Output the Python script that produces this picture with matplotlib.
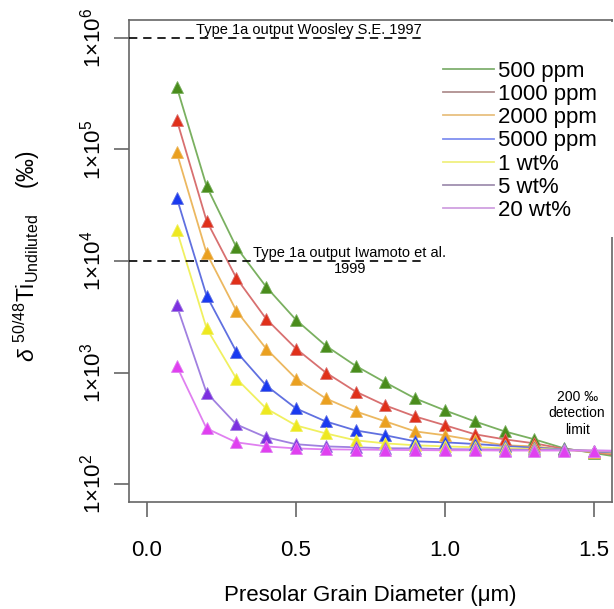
import matplotlib
matplotlib.use('Agg')
import matplotlib.pyplot as plt
from matplotlib.lines import Line2D
from matplotlib.patches import Rectangle

plt.rcParams['font.family'] = ['Liberation Sans', 'DejaVu Sans']
plt.rcParams['mathtext.fontset'] = 'custom'
plt.rcParams['mathtext.rm'] = 'Liberation Sans'
plt.rcParams['mathtext.it'] = 'Liberation Sans:italic'

# grain diameters (um); last point lies past the axis edge
diameter = [0.1, 0.2, 0.3, 0.4, 0.5, 0.6, 0.7, 0.8, 0.9, 1.0, 1.1, 1.2, 1.3, 1.4, 1.5, 1.6]

labels = ['500 ppm', '1000 ppm', '2000 ppm', '5000 ppm', '1 wt%', '5 wt%', '20 wt%']

d_500ppm = [365000, 47000, 13300, 5870, 2970, 1740, 1150, 815, 586, 458, 365, 297, 252, 209, 190, 172]
d_1000ppm = [185000, 23000, 7050, 3030, 1640, 1000, 676, 507, 404, 337, 280, 252, 232, 207, 193, 180]
d_2000ppm = [94000, 11800, 3580, 1640, 883, 586, 449, 365, 297, 274, 247, 223, 218, 203, 195, 186]
d_5000ppm = [37000, 4900, 1540, 766, 477, 365, 303, 274, 242, 237, 229, 220, 212, 205, 197, 190]
d_1wt = [19000, 2500, 883, 477, 336, 285, 247, 232, 223, 218, 214, 210, 207, 203, 199, 194]
d_5wt = [4000, 662, 343, 263, 228, 218, 214, 210, 209, 206, 205, 204, 203, 202, 200, 198]
d_20wt = [1150, 316, 237, 218, 209, 205, 204, 203, 202, 201, 201, 200, 200, 200, 200, 199]

series = [d_500ppm, d_1000ppm, d_2000ppm, d_5000ppm, d_1wt, d_5wt, d_20wt]

marker_colors = ['#4a8c1c', '#e0301a', '#eaa020', '#1a3af0', '#eee820', '#7d30e0', '#e040f0']
line_colors = ['#7ab060', '#d87070', '#ecb860', '#6070e0', '#f0f060', '#a080e0', '#e080f0']
legend_colors = ['#80b070', '#b09090', '#e8c080', '#8090f0', '#f0f080', '#a090b0', '#d0a0e0']

# reference model outputs
woosley = 1e6
iwamoto = 1e4

fig = plt.figure(figsize=(6.14, 6.09), dpi=100)
ax = fig.add_axes([129 / 614, 107 / 609, 483 / 614, 482 / 609])

for vals, mc, lc in zip(series, marker_colors, line_colors):
    ax.plot(diameter, vals, color=lc, lw=1.3, zorder=2)
    ax.plot(diameter, vals, ls='none', marker='^', ms=9, color=mc,
            markeredgecolor=lc, markeredgewidth=0.6, zorder=3)

ax.set_yscale('log')
ax.set_xlim(-0.06, 1.56)
ax.set_ylim(10 ** 1.84, 10 ** 6.16)

# horizontal reference lines
ax.plot([-0.06, 0.92], [woosley, woosley], color='black', lw=1.2, ls=(0, (5, 3.5)), zorder=4)
ax.plot([-0.06, 0.92], [iwamoto, iwamoto], color='black', lw=1.2, ls=(0, (5, 3.5)), zorder=4)
ax.text(0.543, woosley * 1.02, 'Type 1a output Woosley S.E. 1997', ha='center', va='bottom', fontsize=10.5)
ax.text(0.68, iwamoto, 'Type 1a output Iwamoto et al.\n1999', ha='center', va='center',
        fontsize=10.5, linespacing=1.2)
ax.text(1.443, 430, '200 \u2030\ndetection\nlimit', ha='center', va='center', fontsize=10,
        linespacing=1.2)

ax.set_yticks([1e2, 1e3, 1e4, 1e5, 1e6])
ax.set_yticklabels([r'1$\times$10$^{%d}$' % k for k in range(2, 7)], rotation=90, va='center')
ax.minorticks_off()
ax.set_xticks([0.0, 0.5, 1.0, 1.5])
ax.set_xticklabels(['0.0', '0.5', '1.0', '1.5'])

ax.tick_params(axis='both', labelsize=16, length=11, width=1.2, color='#666666', direction='out')
ax.tick_params(axis='x', pad=16)
ax.tick_params(axis='y', pad=6)
for sp in ax.spines.values():
    sp.set_color('#666666')
    sp.set_linewidth(1.2)

ax.set_xlabel('Presolar Grain Diameter (\u03bcm)', fontsize=16, labelpad=18)
ax.set_ylabel(r'$\delta\ ^{50/48}\mathrm{Ti}_{\mathrm{Undiluted}}$' + '    (\u2030)', fontsize=16.5)
ax.yaxis.set_label_coords(-0.18, 0.51)

# white backing behind the legend, over the right spine
ax.add_patch(Rectangle((438 / 614, 1 - 237 / 609), 176 / 614, 215 / 609, transform=fig.transFigure,
                       facecolor='white', edgecolor='none', clip_on=False, zorder=4.5))

handles = [Line2D([0], [0], color=c, lw=1.3) for c in legend_colors]
leg = ax.legend(handles, labels, loc='upper left', bbox_to_anchor=(436 / 614, 1 - 54 / 609),
                bbox_transform=fig.transFigure, fontsize=16, frameon=False,
                handlelength=2.3, handletextpad=0.2, labelspacing=0.1,
                borderpad=0.3, borderaxespad=0)
leg.set_zorder(5)

fig.savefig('out.png', dpi=100)
